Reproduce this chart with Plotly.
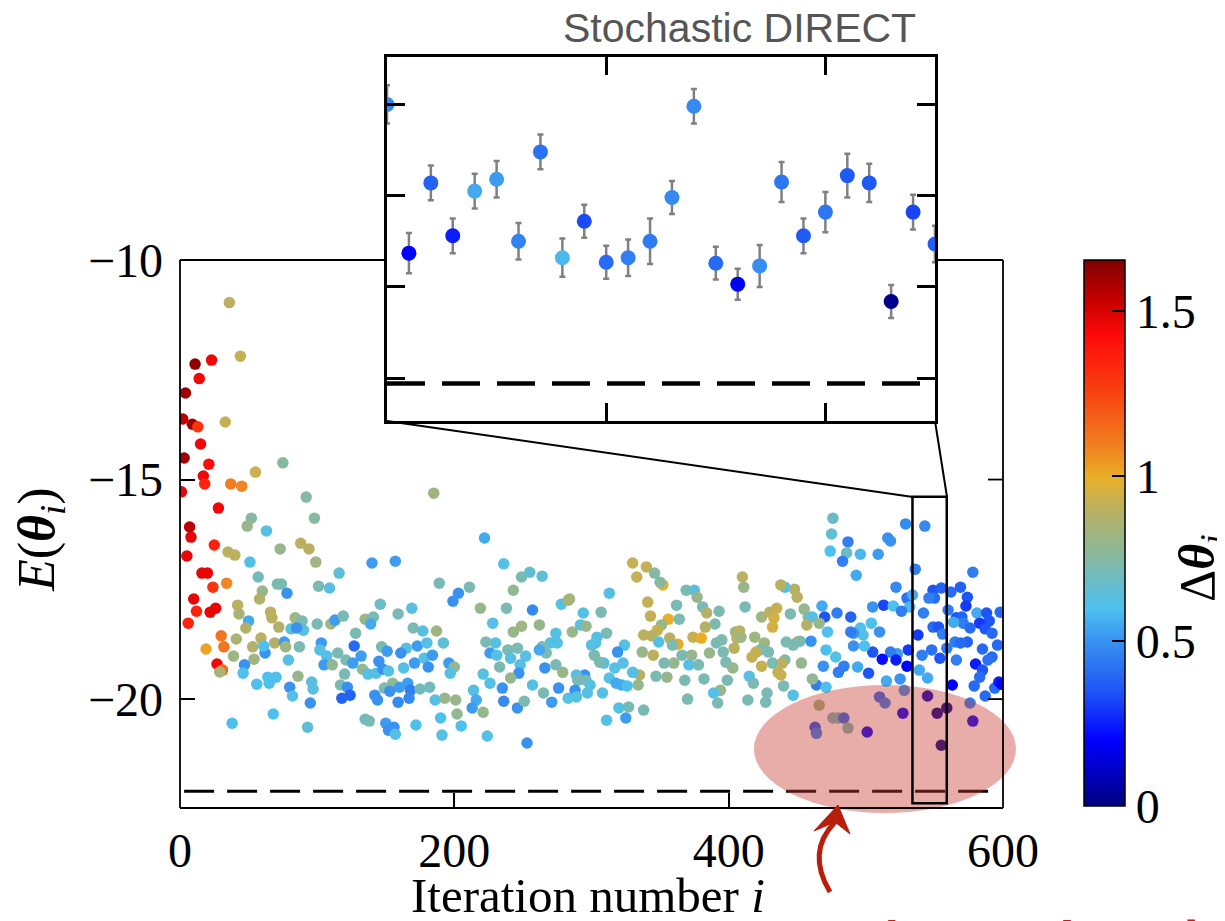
import plotly.graph_objects as go

# page has an 8px body margin: figure is sized so it fills the 1225x921 window
OFF = 8
W, H = 1225 - OFF, 921 - OFF

# ---------------- data: main scatter (iteration, energy, delta theta) ----------------
iters_a = [36,44,11,23,14,4,2,9,13,33,
           15,3,21,17,18,1,37,45,55,75,
           185,28,92,98,52,49,63,7,8,25,
           5,73,88,94,35,40,99,51,140,157,
           116,57,16,20,34,24,71,74,101,109,
           60,78,58,10,189,199,203,146,12,22,
           26,6,42,43,66,67,50,48,72,84,
           89,90,81,85,100,110,113,119,128,135,
           141,139,159,169,170,177,187,192,30,32,
           19,27,31,29,41,39,53,59,54,47,
           46,62,61,69,76,77,87,79,56,64,
           65,70,86,80,82,95,96,97,103,102,
           107,105,111,115,121,127,132,126,133,120,
           117,122,118,124,147,151,145,137,143,148,
           152,149,155,160,166,168,175,182,163,171,
           178,184,181,173,180,165,161,196,200,197,
           142,144,159,153,167,186,193,201,38,68,
           93,135,138,150,152,156,157,172,190,191,
           202,205]
energy_a = [-10.97,-12.19,-12.37,-12.28,-12.7,-13.03,-13.62,-13.74,-13.8,-13.69,
            -14.19,-14.51,-14.65,-14.92,-15.1,-15.28,-15.1,-15.15,-14.83,-14.62,
            -15.31,-15.65,-15.4,-15.88,-15.88,-16.06,-16.17,-16.08,-16.31,-16.49,
            -16.74,-16.58,-16.45,-16.58,-16.65,-16.72,-16.88,-16.88,-16.9,-16.86,
            -17.13,-17.22,-17.13,-17.13,-17.36,-17.45,-17.38,-17.38,-17.43,-17.47,
            -17.54,-17.59,-17.72,-17.72,-17.36,-17.77,-17.59,-17.84,-18.0,-18.02,
            -17.93,-18.27,-17.86,-18.06,-18.02,-18.15,-18.22,-18.38,-18.36,-18.15,
            -18.22,-18.43,-18.4,-18.38,-18.29,-18.29,-18.2,-18.11,-18.5,-18.18,
            -18.13,-18.29,-18.06,-17.93,-18.38,-18.45,-18.45,-18.72,-18.56,-18.81,
            -18.86,-19.2,-19.34,-19.38,-18.63,-19.02,-18.81,-18.61,-19.09,-19.22,
            -19.41,-18.95,-18.79,-18.72,-18.7,-18.81,-18.81,-19.11,-19.66,-19.5,
            -19.64,-19.5,-19.48,-19.73,-19.93,-20.09,-19.61,-19.77,-18.72,-18.88,
            -19.02,-19.22,-19.22,-18.95,-19.11,-18.79,-19.02,-19.18,-19.32,-19.43,
            -19.68,-19.73,-19.98,-19.91,-18.81,-18.91,-19.14,-19.43,-19.41,-19.32,
            -19.36,-19.75,-19.64,-19.73,-19.64,-19.8,-19.77,-19.73,-19.29,-19.18,
            -19.07,-19.0,-19.27,-18.79,-18.72,-18.84,-18.95,-19.18,-19.27,-19.41,
            -19.91,-20.02,-20.07,-19.82,-19.98,-20.02,-19.98,-20.02,-20.55,-20.34,
            -20.64,-20.46,-20.5,-20.55,-20.71,-20.64,-20.8,-20.59,-20.43,-20.82,
            -20.34,-20.61]
delta_a = [0.9,0.92,1.62,1.45,1.45,1.6,1.55,1.6,1.3,0.92,
           1.45,1.6,1.42,1.45,1.35,1.47,1.1,1.08,0.93,0.75,
           0.82,1.45,0.75,0.75,0.75,0.8,0.62,1.55,1.47,1.35,
           1.47,0.8,0.9,0.9,0.9,0.9,0.82,0.62,0.52,0.52,
           0.65,0.7,1.47,1.47,1.08,1.3,0.72,0.72,0.72,0.63,
           0.8,0.5,0.88,1.47,0.72,0.5,0.5,0.68,1.35,1.47,
           1.47,1.35,0.9,0.85,0.9,0.9,0.55,0.88,0.88,0.82,
           0.72,0.63,0.63,0.5,0.72,0.82,0.52,0.72,0.72,0.8,
           0.72,0.55,0.72,0.63,0.72,0.63,0.82,0.65,1.12,1.12,
           1.02,1.45,1.15,0.85,0.85,0.82,0.88,0.9,0.82,0.5,
           0.6,0.5,0.6,0.88,0.52,0.82,0.72,0.62,0.6,0.6,
           0.6,0.6,0.8,0.5,0.62,0.5,0.63,0.63,0.52,0.62,
           0.62,0.52,0.78,0.72,0.72,0.4,0.52,0.52,0.78,0.72,
           0.72,0.5,0.38,0.38,0.72,0.52,0.5,0.62,0.62,0.5,
           0.62,0.72,0.78,0.52,0.52,0.45,0.7,0.7,0.62,0.52,
           0.62,0.52,0.5,0.52,0.62,0.62,0.5,0.52,0.78,0.62,
           0.5,0.5,0.48,0.5,0.48,0.62,0.8,0.8,0.6,0.6,
           0.65,0.7,0.72,0.52,0.5,0.5,0.62,0.6,0.6,0.63,
           0.78,0.6]

iters_b = [222,236,249,255,264,243,211,219,238,257,
           284,278,313,330,340,333,346,352,350,341,
           343,356,362,369,375,377,381,384,393,390,
           383,364,351,348,338,344,357,363,374,380,
           391,395,405,404,349,337,345,359,366,373,
           371,378,386,398,403,399,394,389,392,370,
           382,368,360,353,355,347,335,334,338,330,
           323,324,319,317,313,318,322,326,327,320,
           325,311,308,307,311,304,303,300,309,306,
           302,295,296,299,297,289,290,288,289,283,
           292,294,296,286,283,274,270,275,264,267,
           262,252,246,243,249,262,228,230,223,226,
           231,239,233,241,248,247,241,226,235,236,
           221,214,216,213,221,224,246,253,251,257,
           265,271,266,274,279,276]
energy_b = [-16.33,-16.92,-17.22,-17.11,-17.2,-17.52,-17.45,-17.93,-17.93,-17.97,
            -17.72,-17.84,-17.59,-16.9,-16.99,-17.22,-17.13,-17.4,-17.34,-17.79,
            -18.11,-18.18,-17.86,-17.52,-17.52,-17.68,-17.9,-18.04,-18.0,-18.29,
            -18.36,-18.18,-18.31,-18.43,-18.54,-18.56,-18.61,-18.75,-18.59,-18.61,
            -18.72,-18.65,-18.47,-18.84,-18.7,-18.93,-19.0,-18.77,-19.0,-19.0,
            -19.22,-19.22,-18.95,-19.16,-19.29,-19.57,-19.8,-19.86,-20.09,-20.0,
            -19.54,-19.57,-19.18,-19.18,-19.5,-19.48,-19.45,-19.68,-20.25,-19.39,
            -19.18,-18.77,-18.93,-19.29,-19.52,-19.64,-19.68,-19.7,-20.18,-20.2,
            -20.43,-20.48,-19.86,-18.02,-18.5,-18.59,-18.72,-18.77,-19.18,-19.16,
            -19.0,-19.45,-19.57,-19.68,-19.86,-19.45,-19.57,-19.8,-19.95,-19.98,
            -18.31,-18.04,-18.34,-18.47,-17.75,-18.5,-18.72,-18.72,-18.81,-18.95,
            -18.88,-19.02,-18.84,-18.47,-18.34,-18.31,-18.27,-18.72,-18.7,-18.95,
            -19.0,-18.88,-19.27,-19.07,-19.22,-19.41,-19.52,-19.64,-19.75,-20.05,
            -19.43,-19.8,-20.02,-20.2,-20.3,-20.84,-20.2,-21.0,-20.05,-19.68,
            -19.86,-20.07,-19.29,-19.22,-19.39,-19.75]
delta_b = [0.55,0.62,0.72,0.65,0.65,0.78,0.72,0.8,0.72,0.48,
           0.8,0.62,0.62,0.92,0.92,0.92,0.75,0.98,0.75,0.92,
           0.92,1.0,0.72,0.72,0.63,0.8,0.72,0.88,0.72,0.72,
           0.88,0.72,0.8,0.92,0.9,0.9,0.9,1.0,0.92,1.0,
           0.72,0.72,0.8,0.9,0.62,0.8,0.9,0.72,0.72,0.8,
           0.62,0.72,0.8,0.72,0.8,0.72,0.8,0.62,0.72,0.72,
           0.72,0.72,0.8,0.72,0.8,0.72,0.88,0.8,0.72,0.62,
           0.62,0.62,0.5,0.62,0.62,0.55,0.55,0.6,0.72,0.62,
           0.52,0.62,0.62,0.72,0.72,0.62,0.62,0.62,0.62,0.72,
           0.72,0.5,0.72,0.62,0.62,0.62,0.72,0.5,0.62,0.62,
           0.62,0.62,0.8,0.8,0.85,0.62,0.62,0.62,0.72,0.72,
           0.55,0.62,0.72,0.8,0.82,0.8,0.62,0.62,0.72,0.52,
           0.62,0.72,0.72,0.62,0.62,0.5,0.8,0.62,0.5,0.48,
           0.62,0.62,0.55,0.52,0.8,0.62,0.5,0.5,0.72,0.62,
           0.72,0.52,0.5,0.72,0.8,0.5]

iters_c = [476,475,474,487,486,483,496,509,493,516,
           518,529,543,536,578,522,530,534,532,549,
           550,555,546,562,569,574,573,513,505,520,
           526,542,560,566,570,581,588,598,590,583,
           571,564,576,587,592,549,553,556,538,565,
           574,569,596,585,559,548,541,554,566,592,
           589,531,523,518,522,512,505,510,504,496,
           498,491,489,491,499,471,478,472,469,480,
           484,494,502,515,525,530,539,545,563,580,
           585,583,579,587,594,597,599,468,470,479,
           489,464,471,461,447,441,448,438,450,410,
           411,412,424,430,435,433,432,445,455,458,
           461,466,457,408,406,409,419,426,423,420,
           429,442,450,447,452,460,396,417,441,439,
           432,424,453,436,438,415,418,414,428,427,
           440,466,463,464,476,480,484,487,501,510,
           514,528,527,545,552,559,555,578,576]
energy_c = [-15.88,-16.24,-16.63,-16.42,-16.67,-16.86,-16.7,-16.7,-17.18,-16.33,
            -16.4,-16.01,-16.06,-17.04,-17.11,-17.45,-17.7,-17.63,-17.9,-17.52,
            -17.7,-17.47,-17.7,-17.56,-17.45,-17.68,-17.88,-17.86,-17.9,-17.88,
            -18.0,-18.04,-17.97,-18.15,-18.13,-18.04,-18.04,-18.02,-18.22,-18.27,
            -18.27,-18.25,-18.38,-18.4,-18.5,-18.36,-18.36,-18.52,-18.54,-18.7,
            -18.7,-18.72,-18.77,-18.86,-18.84,-18.88,-19.0,-19.07,-19.11,-19.04,
            -19.11,-18.88,-18.97,-18.93,-19.11,-19.09,-18.93,-18.47,-18.27,-18.38,
            -18.54,-18.5,-18.47,-18.79,-18.79,-18.88,-19.04,-18.47,-19.25,-19.39,
            -19.25,-19.27,-19.41,-19.59,-19.54,-19.25,-19.34,-19.52,-19.68,-19.2,
            -19.34,-19.5,-19.7,-19.93,-19.75,-19.61,-19.66,-17.88,-18.13,-18.04,
            -18.13,-19.68,-19.73,-19.54,-19.91,-17.45,-17.5,-17.4,-17.68,-17.22,
            -17.45,-17.9,-18.13,-18.02,-17.93,-18.15,-18.36,-18.06,-17.95,-18.13,
            -18.13,-18.27,-18.31,-18.45,-18.61,-18.59,-18.59,-18.72,-18.88,-18.93,
            -18.93,-18.7,-18.7,-18.77,-18.68,-18.68,-18.93,-19.04,-19.11,-19.18,
            -19.18,-19.25,-19.18,-19.39,-19.45,-19.48,-19.64,-20.02,-19.86,-20.07,
            -19.7,-20.14,-20.64,-20.78,-20.43,-20.43,-20.43,-20.66,-20.75,-19.95,
            -20.09,-19.8,-20.32,-19.93,-20.32,-20.2,-21.05,-20.5,-20.09]
delta_c = [0.68,0.65,0.6,0.45,0.68,0.45,0.58,0.52,0.55,0.5,
           0.5,0.48,0.48,0.45,0.45,0.48,0.42,0.55,0.58,0.35,
           0.4,0.38,0.45,0.4,0.38,0.35,0.3,0.32,0.5,0.6,
           0.45,0.45,0.45,0.35,0.38,0.55,0.35,0.4,0.35,0.3,
           0.45,0.55,0.4,0.35,0.4,0.4,0.35,0.45,0.3,0.45,
           0.38,0.4,0.4,0.4,0.45,0.42,0.45,0.35,0.45,0.4,
           0.42,0.3,0.52,0.45,0.25,0.22,0.35,0.5,0.6,0.6,
           0.62,0.5,0.45,0.5,0.6,0.6,0.62,0.6,0.5,0.45,
           0.45,0.55,0.35,0.55,0.5,0.2,0.55,0.55,0.2,0.25,
           0.35,0.4,0.4,0.4,0.4,0.25,0.2,0.55,0.35,0.45,
           0.38,0.45,0.6,0.78,0.62,0.6,0.88,0.9,0.9,0.9,
           0.8,0.72,0.82,0.9,0.92,0.95,0.95,0.72,0.8,0.72,
           0.62,0.8,0.88,0.9,0.9,0.82,0.82,0.82,0.72,0.92,
           0.72,0.72,0.9,0.72,0.72,0.5,0.72,0.92,0.72,0.9,
           0.72,0.92,0.8,0.92,0.92,0.62,0.72,0.72,0.72,0.72,
           0.72,0.82,0.35,0.45,0.7,0.7,0.4,0.72,0.2,0.4,
           0.45,0.5,0.2,0.1,0.02,0.02,0.02,0.2,0.45]

# ---------------- data: inset (Stochastic DIRECT) ----------------
inset_iter = list(range(535, 561))
inset_energy = [-19.0,-20.63,-19.86,-20.44,-19.95,-19.82,-20.5,-19.52,-20.68,-20.28,
                -20.73,-20.68,-20.5,-20.02,-19.02,-20.74,-20.97,-20.77,-19.85,-20.44,
                -20.18,-19.78,-19.86,-21.16,-20.18,-20.53]
inset_err = [0.21,0.22,0.19,0.19,0.19,0.2,0.2,0.19,0.21,0.18,
             0.18,0.2,0.25,0.18,0.19,0.18,0.17,0.23,0.22,0.19,
             0.22,0.24,0.21,0.18,0.19,0.2]
inset_delta = [0.48,0.2,0.38,0.25,0.55,0.52,0.46,0.42,0.58,0.33,
               0.4,0.45,0.44,0.48,0.48,0.4,0.18,0.49,0.43,0.36,
               0.43,0.36,0.36,0.02,0.32,0.37]

best_energy = -22.1
inset_best = -22.06
main_xticks = [0, 200, 400, 600]
main_yticks = [-20, -15, -10]
cbar_ticks = [0, 0.5, 1, 1.5]
cbar_labels = ['0', '0.5', '1', '1.5']
cbar_max = 1.654

iters = iters_a + iters_b + iters_c
energy = energy_a + energy_b + energy_c
delta = delta_a + delta_b + delta_c

# ---------------- helpers (window pixel -> paper) ----------------
def X(p):
    return (p - OFF) / W

def Y(p):
    return 1 - (p - OFF) / H

def path(points, close=False, curve=False):
    if curve:
        (x0, y0), (cx, cy), (x1, y1) = points
        return f"M {X(x0)},{Y(y0)} Q {X(cx)},{Y(cy)} {X(x1)},{Y(y1)}"
    s = "M " + " L ".join(f"{X(a)},{Y(b)}" for a, b in points)
    return s + (" Z" if close else "")

serif = "Liberation Serif"
colorscale = [
    [0.0, '#00007F'], [0.06, '#0000C0'], [0.12, '#0000FF'], [0.21, '#1E55F5'],
    [0.30, '#3890F0'], [0.36, '#4CC0F0'], [0.41, '#6ABCC8'], [0.47, '#90B894'],
    [0.54, '#B8B064'], [0.60, '#E8B028'], [0.66, '#F08020'], [0.76, '#F84010'],
    [0.86, '#FF0A0A'], [0.92, '#CC0000'], [1.0, '#7F0000'],
]

fig = go.Figure()

fig.add_trace(go.Scatter(
    x=iters, y=energy, mode='markers', xaxis='x', yaxis='y',
    marker=dict(size=11.5, color=delta, coloraxis='coloraxis', line=dict(width=0)),
    hoverinfo='skip'))

fig.add_trace(go.Scatter(
    x=inset_iter, y=inset_energy, mode='markers', xaxis='x2', yaxis='y2',
    error_y=dict(type='data', array=inset_err, color='#808080', thickness=2.5, width=3),
    marker=dict(size=15, color=inset_delta, coloraxis='coloraxis', line=dict(width=0)),
    hoverinfo='skip'))

shapes = []
shapes.append(dict(type='line', xref='x', yref='y', x0=3, x1=597, y0=best_energy, y1=best_energy,
                   line=dict(color='black', width=3, dash='30px,13px')))
shapes.append(dict(type='line', xref='x2', yref='y2', x0=535, x1=560, y0=inset_best, y1=inset_best,
                   line=dict(color='black', width=4.5, dash='38px,17px')))
shapes.append(dict(type='circle', xref='paper', yref='paper', x0=X(754), x1=X(1016), y0=Y(813), y1=Y(685),
                   fillcolor='rgba(200,60,50,0.42)', line=dict(width=0), layer='above'))
shapes.append(dict(type='rect', xref='x', yref='y', x0=534, x1=559, y0=-22.37, y1=-15.39,
                   line=dict(color='black', width=2.5)))
for a, b in [((387, 421), (913, 497)), ((935, 421), (947, 497))]:
    shapes.append(dict(type='line', xref='paper', yref='paper', x0=X(a[0]), y0=Y(a[1]), x1=X(b[0]), y1=Y(b[1]),
                       line=dict(color='black', width=2)))
for a, b in [((180, 260), (180, 808)), ((180, 808), (1003, 808)), ((1003, 808), (1003, 260)),
             ((180, 260), (387, 260)), ((935, 260), (1003, 260))]:
    shapes.append(dict(type='line', xref='paper', yref='paper', x0=X(a[0]), y0=Y(a[1]), x1=X(b[0]), y1=Y(b[1]),
                       line=dict(color='black', width=1.8)))
for v in [-20, -15]:
    shapes.append(dict(type='line', xref='paper', yref='y', x0=X(1003), x1=X(988), y0=v, y1=v,
                       line=dict(color='black', width=1.8)))
for v in cbar_ticks[1:]:
    yy = 806 - v * (546 / cbar_max)
    shapes.append(dict(type='line', xref='paper', yref='paper', x0=X(1084), x1=X(1097), y0=Y(yy), y1=Y(yy),
                       line=dict(color='black', width=2)))
arrow_red = '#B81E0A'
shapes.append(dict(type='path', xref='paper', yref='paper',
                   path=path([(830, 892), (806, 852), (835, 822)], curve=True),
                   line=dict(color=arrow_red, width=5)))
shapes.append(dict(type='path', xref='paper', yref='paper',
                   path=path([(838, 805), (814, 831), (835, 822), (850, 834)], close=True),
                   fillcolor=arrow_red, line=dict(color=arrow_red, width=1)))

annotations = [
    dict(text='Stochastic DIRECT', x=X(918), y=Y(28), xref='paper', yref='paper',
         xanchor='right', yanchor='middle', showarrow=False,
         font=dict(family='Liberation Sans', size=41, color='#555555')),
    dict(text='Iteration number <i>i</i>', x=X(588), y=Y(895), xref='paper', yref='paper',
         xanchor='center', yanchor='middle', showarrow=False,
         font=dict(family=serif, size=49, color='black')),
    dict(text='<i>E</i>(<b><i>θ</i></b><sub><i>i</i></sub>)', x=X(40), y=Y(540), xref='paper', yref='paper',
         xanchor='center', yanchor='middle', showarrow=False, textangle=-90,
         font=dict(family=serif, size=52, color='black')),
    dict(text='Δ<b><i>θ</i></b><sub><i>i</i></sub>', x=X(1201), y=Y(568), xref='paper', yref='paper',
         xanchor='center', yanchor='middle', showarrow=False, textangle=-90,
         font=dict(family=serif, size=50, color='black')),
    dict(text='in the noise-limited regime', x=X(824), y=Y(910), xref='paper', yref='paper',
         xanchor='left', yanchor='top', showarrow=False, borderpad=0,
         font=dict(family=serif, size=48, color='#C02010')),
]

fig.update_layout(
    width=W, height=H, autosize=False,
    margin=dict(l=0, r=0, t=0, b=0),
    paper_bgcolor='white', plot_bgcolor='white',
    showlegend=False,
    xaxis=dict(domain=[X(180), X(1003)], range=[0, 600], tickvals=main_xticks,
               ticks='inside', ticklen=15, tickwidth=1.8, tickcolor='black',
               showline=False, showgrid=False, zeroline=False, automargin=False,
               ticklabelstandoff=10, tickfont=dict(family=serif, size=48, color='black')),
    yaxis=dict(domain=[Y(808), Y(260)], range=[-22.48, -10], tickvals=main_yticks,
               ticks='inside', ticklen=15, tickwidth=1.8, tickcolor='black',
               showline=False, showgrid=False, zeroline=False, automargin=False,
               ticklabelstandoff=16, tickfont=dict(family=serif, size=48, color='black')),
    xaxis2=dict(domain=[X(387), X(935)], range=[535, 560], anchor='y2', tickvals=[545, 555],
                ticks='inside', ticklen=18, tickwidth=3, tickcolor='black', showticklabels=False,
                showline=True, linewidth=2.5, linecolor='black', mirror='ticks',
                showgrid=False, zeroline=False, automargin=False),
    yaxis2=dict(domain=[Y(421), Y(57)], range=[-22.47, -18.48], anchor='x2', tickvals=[-22, -21, -20, -19],
                ticks='inside', ticklen=18, tickwidth=3, tickcolor='black', showticklabels=False,
                showline=True, linewidth=2.5, linecolor='black', mirror='ticks',
                showgrid=False, zeroline=False, automargin=False),
    coloraxis=dict(
        cmin=0, cmax=cbar_max, colorscale=colorscale,
        colorbar=dict(
            x=X(1084), xanchor='left', y=Y(533), yanchor='middle',
            thickness=41, thicknessmode='pixels', len=546, lenmode='pixels',
            xpad=0, ypad=0, outlinewidth=1.5, outlinecolor='black',
            tickvals=cbar_ticks, ticktext=cbar_labels,
            ticks='inside', ticklen=13, tickwidth=2, tickcolor='black',
            tickfont=dict(family=serif, size=48, color='black'),
        ),
    ),
    shapes=shapes,
    annotations=annotations,
)

fig.write_html('out.html')
